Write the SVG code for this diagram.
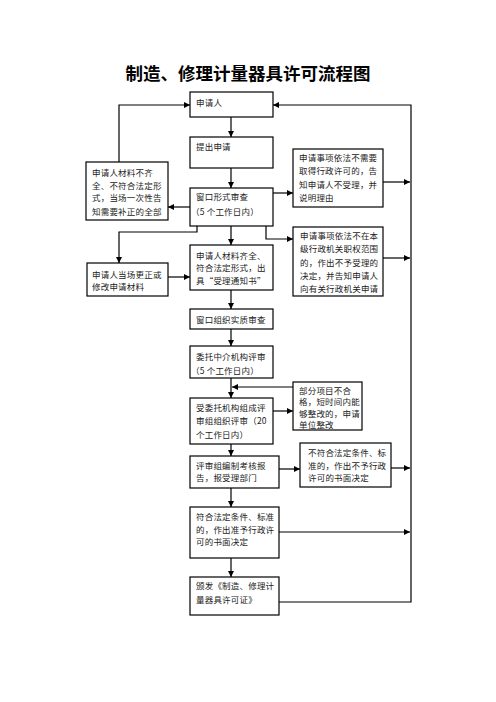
<svg xmlns="http://www.w3.org/2000/svg" width="496" height="702" viewBox="0 0 496 702">
<defs>
<marker id="arr" markerUnits="userSpaceOnUse" markerWidth="6" markerHeight="6" refX="6" refY="3" orient="auto">
<path d="M0,0 L6,3 L0,6 z" fill="#000"/>
</marker>
<style>
.box{fill:#fff;stroke:#000;stroke-width:1.2}
.t{font-family:"Noto Sans CJK SC","Noto Sans",sans-serif;font-size:8.5px;fill:#222;letter-spacing:0.2px}
.title{font-family:"Noto Sans CJK SC","Noto Sans",sans-serif;font-size:17.5px;font-weight:bold;fill:#000}
.c{fill:none;stroke:#000;stroke-width:1.2;marker-end:url(#arr)}
.c0{fill:none;stroke:#000;stroke-width:1.2}
</style>
</defs>
<rect width="496" height="702" fill="#fff"/>
<text class="title" x="248" y="80" text-anchor="middle">制造、修理计量器具许可流程图</text>

<g id="connectors">
<path class="c" d="M231,117 V137"/>
<path class="c" d="M231,168 V188"/>
<path class="c" d="M273,193 H293"/>
<path class="c" d="M190,207 H168"/>
<path class="c" d="M119,162 V105 H190"/>
<path class="c" d="M197,226 V232 H119 V263"/>
<path class="c" d="M168,277 H190"/>
<path class="c" d="M231,226 V245"/>
<path class="c" d="M266,226 V239 H293"/>
<path class="c" d="M383,258 H410"/>
<path class="c" d="M383,182 H410"/>
<path class="c" d="M231,290 V309"/>
<path class="c" d="M231,329 V346"/>
<path class="c" d="M231,378 V398"/>
<path class="c" d="M293,387 H232"/>
<path class="c" d="M273,411 H293"/>
<path class="c" d="M231,444 V456"/>
<path class="c" d="M279,469 H300"/>
<path class="c" d="M391,468 H410"/>
<path class="c" d="M231,488 V507"/>
<path class="c" d="M279,532 H410"/>
<path class="c" d="M231,558 V577"/>
<path class="c" d="M279,602 H411 V105 H273"/>
</g>

<g id="n1"><rect class="box" x="190" y="92" width="83" height="25"/>
<text class="t" x="196" y="106">申请人</text></g>

<g id="n2"><rect class="box" x="190" y="137" width="83" height="31"/>
<text class="t" x="196" y="150">提出申请</text></g>

<g id="n3"><rect class="box" x="190" y="188" width="83" height="38"/>
<text class="t" x="196" y="200">窗口形式审查</text>
<text class="t" x="191" y="214.5">（5 个工作日内）</text></g>

<g id="n4"><rect class="box" x="86" y="162" width="82" height="58"/>
<text class="t" x="92" y="176">申请人材料不齐</text>
<text class="t" x="92" y="188.5">全、不符合法定形</text>
<text class="t" x="92" y="201">式，当场一次性告</text>
<text class="t" x="92" y="214.5">知需要补正的全部</text></g>

<g id="n5"><rect class="box" x="293" y="149" width="90" height="58"/>
<text class="t" x="299" y="161">申请事项依法不需要</text>
<text class="t" x="299" y="174">取得行政许可的，告</text>
<text class="t" x="299" y="187.5">知申请人不受理，并</text>
<text class="t" x="299" y="201">说明理由</text></g>

<g id="n6"><rect class="box" x="87" y="263" width="81" height="33"/>
<text class="t" x="92" y="277.5">申请人当场更正或</text>
<text class="t" x="92" y="290">修改申请材料</text></g>

<g id="n7"><rect class="box" x="190" y="245" width="83" height="45"/>
<text class="t" x="196" y="258.5">申请人材料齐全、</text>
<text class="t" x="196" y="271">符合法定形式，出</text>
<text class="t" x="196" y="283.5">具“受理通知书”</text></g>

<g id="n8"><rect class="box" x="293" y="227" width="90" height="69"/>
<text class="t" x="300" y="238.5">申请事项依法不在本</text>
<text class="t" x="300" y="252">级行政机关职权范围</text>
<text class="t" x="300" y="265.5">的，作出不予受理的</text>
<text class="t" x="300" y="279">决定，并告知申请人</text>
<text class="t" x="300" y="292">向有关行政机关申请</text></g>

<g id="n9"><rect class="box" x="190" y="309" width="83" height="20"/>
<text class="t" x="196" y="322.5">窗口组织实质审查</text></g>

<g id="n10"><rect class="box" x="190" y="346" width="83" height="32"/>
<text class="t" x="196" y="360">委托中介机构评审</text>
<text class="t" x="191" y="374">（5 个工作日内）</text></g>

<g id="n11"><rect class="box" x="293" y="382" width="69" height="48"/>
<text class="t" x="299" y="393.5">部分项目不合</text>
<text class="t" x="299" y="405">格，短时间内能</text>
<text class="t" x="299" y="416.8">够整改的，申请</text>
<text class="t" x="299" y="428">单位整改</text></g>

<g id="n12"><rect class="box" x="190" y="398" width="83" height="46"/>
<text class="t" x="196" y="411">受委托机构组成评</text>
<text class="t" x="196" y="424">审组组织评审（20</text>
<text class="t" x="196" y="437.5">个工作日内）</text></g>

<g id="n13"><rect class="box" x="190" y="456" width="89" height="32"/>
<text class="t" x="196" y="468.5">评审组编制考核报</text>
<text class="t" x="196" y="481">告，报受理部门</text></g>

<g id="n14"><rect class="box" x="300" y="443" width="91" height="44"/>
<text class="t" x="308" y="456">不符合法定条件、标</text>
<text class="t" x="308" y="468.5">准的，作出不予行政</text>
<text class="t" x="308" y="481">许可的书面决定</text></g>

<g id="n15"><rect class="box" x="190" y="507" width="89" height="51"/>
<text class="t" x="196" y="520">符合法定条件、标准</text>
<text class="t" x="196" y="533">的，作出准予行政许</text>
<text class="t" x="196" y="545">可的书面决定</text></g>

<g id="n16"><rect class="box" x="190" y="577" width="89" height="38"/>
<text class="t" x="196" y="588.5">颁发《制造、修理计</text>
<text class="t" x="196" y="602.5">量器具许可证》</text></g>
</svg>
